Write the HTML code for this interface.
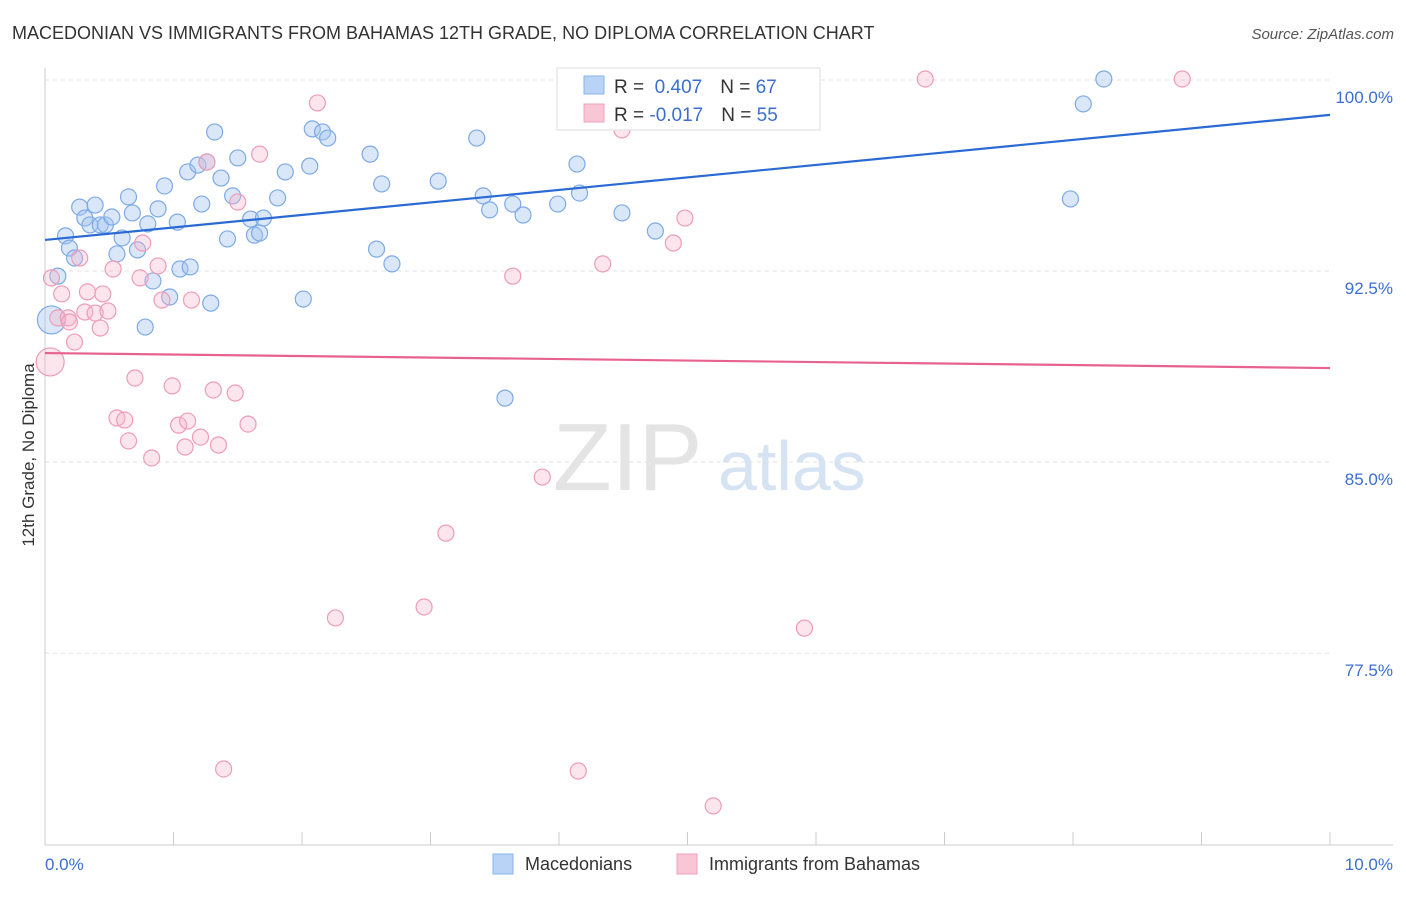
<!DOCTYPE html>
<html><head><meta charset="utf-8"><style>
body{margin:0;background:#fff;font-family:"Liberation Sans",sans-serif;}
svg text{font-family:"Liberation Sans",sans-serif;}
</style></head><body>
<svg id="chart" width="1406" height="892" xmlns="http://www.w3.org/2000/svg">
<text x="12" y="39" font-size="18" fill="#333">MACEDONIAN VS IMMIGRANTS FROM BAHAMAS 12TH GRADE, NO DIPLOMA CORRELATION CHART</text>
<text x="1394" y="39" font-size="15" fill="#555" text-anchor="end" font-style="italic">Source: ZipAtlas.com</text>
<g><text x="553" y="490" font-size="96" fill="#e4e4e4" font-family="Liberation Serif,serif">ZIP</text><text x="718" y="490" font-size="70" fill="#d5e3f3">atlas</text></g>
<g id="grid"></g>
<g id="axes"></g>
<text transform="translate(34,455) rotate(-90)" font-size="17" fill="#333" text-anchor="middle">12th Grade, No Diploma</text>
<g id="points"></g>
<g id="lines"></g>
<g>
<rect x="557" y="68" width="263" height="62" fill="#fff" stroke="#ddd"/>
<rect x="584" y="76" width="20" height="18" fill="#b8d3f5" stroke="#8ab4e8"/>
<rect x="584" y="104" width="20" height="18" fill="#f9c6d6" stroke="#f0a0bc"/>
<text x="614" y="93" font-size="19" fill="#333">R = <tspan fill="#3a6fd0">&#160;0.407</tspan><tspan dx="18">N = </tspan><tspan fill="#3a6fd0">67</tspan></text>
<text x="614" y="121" font-size="19" fill="#333">R = <tspan fill="#3a6fd0">-0.017</tspan><tspan dx="18">N = </tspan><tspan fill="#3a6fd0">55</tspan></text>
</g>
<g>
<rect x="493" y="854" width="20" height="20" fill="#b8d3f5" stroke="#8ab4e8"/>
<text x="525" y="870" font-size="18" fill="#333">Macedonians</text>
<rect x="677" y="854" width="20" height="20" fill="#f9c6d6" stroke="#f0a0bc"/>
<text x="709" y="870" font-size="18" fill="#333">Immigrants from Bahamas</text>
</g>
</svg>
<script>
const yTicks=[100,92.5,85,77.5];
const yTickLabels=["100.0%","92.5%","85.0%","77.5%"];
const xTickLabels=["0.0%","10.0%"];
const blueX=[.05,.10,.16,.19,.23,.27,.31,.35,.39,.43,.47,.52,.56,.60,.65,.68,.72,.78,.80,.84,.88,.93,.97,1.03,1.05,1.11,1.13,1.19,1.22,1.26,1.29,1.32,1.37,1.42,1.46,1.50,1.60,1.63,1.67,1.70,1.81,1.87,2.01,2.06,2.08,2.16,2.20,2.53,2.58,2.62,2.70,3.06,3.36,3.41,3.46,3.64,3.72,3.58,3.99,4.14,4.16,4.49,4.75,7.98,8.08,8.24];
const blueY=[90.58,92.30,93.88,93.40,93.01,95.01,94.58,94.31,95.09,94.31,94.31,94.62,93.17,93.80,95.41,94.78,93.33,90.30,94.35,92.11,94.94,95.84,91.48,94.42,92.58,96.39,92.66,96.66,95.13,96.78,91.24,97.96,96.15,93.76,95.45,96.94,94.54,93.91,93.99,94.58,95.37,96.39,91.40,96.62,98.08,97.96,97.72,97.09,93.36,95.92,92.78,96.03,97.72,95.45,94.90,95.13,94.70,87.51,95.13,96.70,95.56,94.78,94.07,95.33,99.06,100.04];
const pinkX=[.04,.05,.10,.13,.18,.19,.23,.27,.31,.33,.39,.43,.45,.49,.53,.56,.62,.65,.70,.74,.76,.83,.88,.91,.99,1.04,1.09,1.11,1.14,1.21,1.26,1.31,1.35,1.48,1.50,1.58,1.67,2.12,2.26,2.95,3.12,3.64,3.87,4.15,4.34,4.49,4.89,4.98,5.20,5.91,6.85,8.85,1.39];
const pinkY=[88.93,92.23,90.66,91.60,90.66,90.50,89.71,93.01,90.89,91.68,90.85,90.26,91.60,90.93,92.58,86.73,86.65,85.83,88.30,92.23,93.60,85.16,92.70,91.36,87.99,86.45,85.59,86.61,91.36,85.98,96.78,87.83,85.67,87.71,95.21,86.49,97.09,99.10,78.88,79.31,82.21,92.30,84.41,72.87,92.78,98.04,93.60,94.58,71.50,78.48,100.04,100.04,72.95];
const blueBig=[0], pinkBig=[0];
const blueFit=[93.72,98.63], pinkFit=[89.28,88.69];
const X=v=>45+v*128.5, Y=v=>80+(100-v)*25.47;
const NS="http://www.w3.org/2000/svg";
function mk(t,a,p){const e=document.createElementNS(NS,t);for(const k in a)e.setAttribute(k,a[k]);p.appendChild(e);return e;}
const grid=document.getElementById('grid'),axes=document.getElementById('axes');
yTicks.forEach((t,i)=>{
 mk('line',{x1:45,x2:1330,y1:Y(t),y2:Y(t),stroke:'#e2e2e2','stroke-dasharray':'4,4'},grid);
 const tx=mk('text',{x:1393,y:Y(t)+23,'font-size':17,fill:'#3a6fd0','text-anchor':'end'},axes);tx.textContent=yTickLabels[i];
 
 
});
mk('line',{x1:45,x2:45,y1:68,y2:845,stroke:'#ccc'},axes);
mk('line',{x1:45,x2:1393,y1:845,y2:845,stroke:'#ccc'},axes);
for(let i=0;i<=10;i++)mk('line',{x1:X(i),x2:X(i),y1:832,y2:845,stroke:'#ccc'},axes);
[[0,'start',45],[10,'end',1393]].forEach((d,i)=>{const t=mk('text',{x:d[2],y:870,'font-size':17,fill:'#3a6fd0','text-anchor':d[1]},axes);t.textContent=xTickLabels[i];
 
 });
const pts=document.getElementById('points');
function series(xs,ys,big,fill,stroke,name){xs.forEach((x,i)=>{const c=mk('circle',{cx:X(x),cy:Y(ys[i]),r:big.includes(i)?14:8,fill:fill,stroke:stroke,'stroke-width':1.2},pts);
 
 });}
series(blueX,blueY,blueBig,'rgba(160,195,240,0.4)','#7eaae6','macedonian-point');
series(pinkX,pinkY,pinkBig,'rgba(245,180,200,0.35)','#ee9cb9','bahamas-point');
const ln=document.getElementById('lines');
const l1=mk('line',{x1:X(0),x2:X(10),y1:Y(blueFit[0]),y2:Y(blueFit[1]),stroke:'#2a6ad4','stroke-width':2.2},ln);


const l2=mk('line',{x1:X(0),x2:X(10),y1:Y(pinkFit[0]),y2:Y(pinkFit[1]),stroke:'#e8628e','stroke-width':2.2},ln);


</script>
</body></html>
